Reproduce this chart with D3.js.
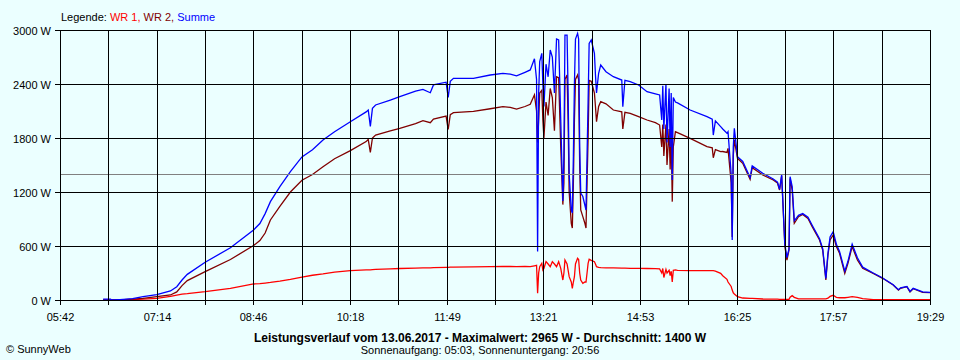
<!DOCTYPE html>
<html><head><meta charset="utf-8">
<script src="https://cdn.jsdelivr.net/npm/d3@7"></script>
<style>
html,body{margin:0;padding:0;background:#ebffff;}
svg{display:block;}
text{font-family:"Liberation Sans",Arial,sans-serif;}
</style></head><body><svg id="c" width="960" height="360"></svg>
<script>
const times = ["6:23","6:30","6:31","6:39","6:51","7:01","7:14","7:27","7:33","7:38","7:43","8:00","8:24","8:46","8:52","8:57","9:02","9:11","9:21","9:32","9:42","9:52","10:03","10:18","10:33","10:35","10:37","10:39","10:42","10:56","11:05","11:20","11:27","11:34","11:37","11:49","11:51","11:53","11:56","12:15","12:31","12:43","12:50","12:56","13:04","13:09","13:13","13:15","13:16","13:17","13:18","13:20","13:21","13:22","13:24","13:26","13:28","13:30","13:32","13:34","13:36","13:38","13:40","13:41","13:42","13:44","13:45","13:46","13:48","13:49","13:50","13:51","13:52","13:54","13:55","13:56","13:57","13:59","14:01","14:02","14:03","14:04","14:05","14:07","14:10","14:11","14:12","14:14","14:16","14:21","14:28","14:36","14:37","14:39","14:44","14:52","15:00","15:08","15:12","15:14","15:15","15:16","15:18","15:19","15:21","15:22","15:23","15:24","15:25","15:27","15:29","15:41","15:57","16:02","16:03","16:05","16:10","16:12","16:16","16:17","16:20","16:21","16:22","16:23","16:26","16:31","16:38","16:40","16:50","17:00","17:04","17:06","17:08","17:11","17:13","17:15","17:16","17:18","17:20","17:24","17:28","17:33","17:37","17:44","17:47","17:50","17:52","17:54","17:57","18:00","18:03","18:08","18:11","18:15","18:20","18:25","18:35","18:44","18:54","18:59","19:01","19:07","19:10","19:13","19:22","19:29"];
const wr1 = [0,0,0,0,5,10,19,40,55,65,70,92,130,178,182,188,195,210,230,255,275,290,310,326,335,335,335,338,340,345,350,355,356,358,360,362,362,365,365,368,370,372,372,370,372,370,380,385,74,300,370,407,333,350,426,400,370,426,400,370,426,352,222,300,444,400,333,259,200,130,200,259,400,463,450,300,222,185,200,200,300,407,452,440,426,400,370,363,360,358,356,355,355,355,352,352,350,348,345,300,350,250,340,300,330,270,320,200,330,335,330,326,326,326,326,320,296,270,230,200,150,110,80,67,37,22,19,19,11,10,10,7,7,7,7,7,30,48,30,13,13,13,13,13,13,13,20,40,52,30,25,25,30,37,30,15,5,5,5,4,4,4,4,4,4,4];
const wr2 = [0,0,0,0,10,19,37,56,90,160,215,315,450,605,660,744,889,1040,1200,1330,1395,1480,1570,1660,1760,1785,1640,1800,1833,1880,1907,1960,1993,1970,2010,2044,1896,2060,2081,2095,2125,2148,2140,2122,2150,2174,2280,2100,1750,2000,2300,2330,2000,1800,2200,2050,2350,2250,1880,2480,2470,1700,1060,1300,2450,2500,2000,1200,850,800,1300,2000,2450,2500,2450,1500,1000,926,850,800,1300,1800,2440,2430,2300,2150,1981,2150,2204,2180,2111,2090,1900,2085,2074,2037,2000,1970,1944,1700,1950,1600,1950,1500,1900,1450,1850,1093,1700,1870,1860,1796,1704,1690,1580,1670,1648,1650,1640,1685,1300,700,1600,1778,1574,1519,1340,1470,1389,1333,1300,1222,1380,600,444,556,1350,1222,852,926,950,907,815,667,556,222,500,667,722,593,519,296,407,593,444,352,296,241,167,110,130,148,90,125,85,82];
const summe = [10,10,0,5,15,37,60,100,148,222,285,420,580,778,850,960,1093,1260,1426,1590,1670,1778,1870,1981,2090,2111,1930,2130,2167,2222,2259,2320,2340,2303,2390,2420,2252,2430,2463,2463,2500,2519,2510,2490,2530,2556,2680,2450,540,2300,2650,2741,2400,2150,2620,2480,2778,2700,2300,2900,2890,2000,1100,1600,2944,2944,2300,1400,1000,967,1600,2400,2900,2963,2900,1700,1189,1150,1050,1000,1600,2200,2850,2889,2741,2500,2300,2519,2611,2537,2481,2444,2148,2440,2426,2389,2315,2290,2278,2000,2380,1900,2400,1750,2350,1700,2300,1333,2250,2200,2190,2111,2037,2010,1833,1990,1926,1900,1852,1870,1400,667,1700,1907,1593,1540,1360,1490,1408,1345,1310,1230,1390,620,470,570,1370,1260,880,940,960,920,830,680,570,240,520,700,760,620,540,320,430,620,470,365,300,245,170,115,135,150,95,130,90,85];
const yTicks = [0,600,1200,1800,2400,3000];
const xLabels = ["05:42","07:14","08:46","10:18","11:49","13:21","14:53","16:25","17:57","19:29"];
const average = 1400;
const legendItems = [{label:"WR 1, ",color:"#ff0000"},{label:"WR 2, ",color:"#800000"},{label:"Summe",color:"#0000ff"}];

const svg = d3.select("#c");
const bg = "#ebffff";
const pL = 60, pR = 930, pT = 30, pB = 300;
const toMin = s => { const p = s.split(":"); return +p[0]*60 + +p[1]; };
const startMin = toMin(xLabels[0]), endMin = toMin(xLabels[xLabels.length-1]);
const x = d3.scaleLinear().domain([startMin, endMin]).range([pL, pR]);
const y = d3.scaleLinear().domain([0, 3000]).range([pB, pT]);

svg.append("rect").attr("width",960).attr("height",360).attr("fill",bg);

const rows = times.map((t,i)=>({t:toMin(t), a:wr1[i], b:wr2[i], s:summe[i]}));
const mk = key => d3.line().x(d=>x(d.t)).y(d=>y(d[key]));
svg.append("path").datum(rows).attr("d",mk("a")).attr("fill","none").attr("stroke","#ff0000").attr("stroke-width",1.3);
svg.append("path").datum(rows).attr("d",mk("b")).attr("fill","none").attr("stroke","#800000").attr("stroke-width",1.3);
svg.append("path").datum(rows).attr("d",mk("s")).attr("fill","none").attr("stroke","#0000ff").attr("stroke-width",1.3);

// average line
svg.append("line").attr("x1",pL).attr("x2",pR)
  .attr("y1",Math.round(y(average))+0.5).attr("y2",Math.round(y(average))+0.5)
  .attr("stroke","#808080").attr("stroke-width",1);

// grid: horizontal
const g = svg.append("g");
yTicks.forEach(v=>{
  const yy = Math.round(y(v))+0.5;
  g.append("line").attr("x1",pL-5).attr("x2",pR).attr("y1",yy).attr("y2",yy).attr("stroke","#000").attr("stroke-width",1);
  g.append("text").attr("x",51).attr("y",yy+4).attr("text-anchor","end").attr("font-size","11px").attr("fill","#000").text(v+" W");
});
// vertical
const nInt = (xLabels.length-1)*2;
for(let i=0;i<=nInt;i++){
  const tv = startMin + i*(endMin-startMin)/nInt;
  const xx = Math.round(x(tv))+0.5;
  g.append("line").attr("x1",xx).attr("x2",xx).attr("y1",pT).attr("y2",pB+5).attr("stroke","#000").attr("stroke-width",1);
  if(i%2===0){
    g.append("text").attr("x",xx).attr("y",320.5).attr("text-anchor","middle").attr("font-size","11px").attr("fill","#000").text(xLabels[i/2]);
  }
}

// legend
const lg = svg.append("text").attr("x",61).attr("y",20.5).attr("font-size","11px");
lg.append("tspan").attr("fill","#000").text("Legende: ");
legendItems.forEach(it=>lg.append("tspan").attr("fill",it.color).text(it.label));

svg.append("text").attr("x",480).attr("y",341.5).attr("text-anchor","middle").attr("font-size","12px").attr("font-weight","bold")
  .text("Leistungsverlauf vom 13.06.2017 - Maximalwert: 2965 W - Durchschnitt: 1400 W");
svg.append("text").attr("x",480).attr("y",353.5).attr("text-anchor","middle").attr("font-size","11px")
  .text("Sonnenaufgang: 05:03, Sonnenuntergang: 20:56");
svg.append("text").attr("x",6).attr("y",353).attr("font-size","11px").text("© SunnyWeb");
</script></body></html>
